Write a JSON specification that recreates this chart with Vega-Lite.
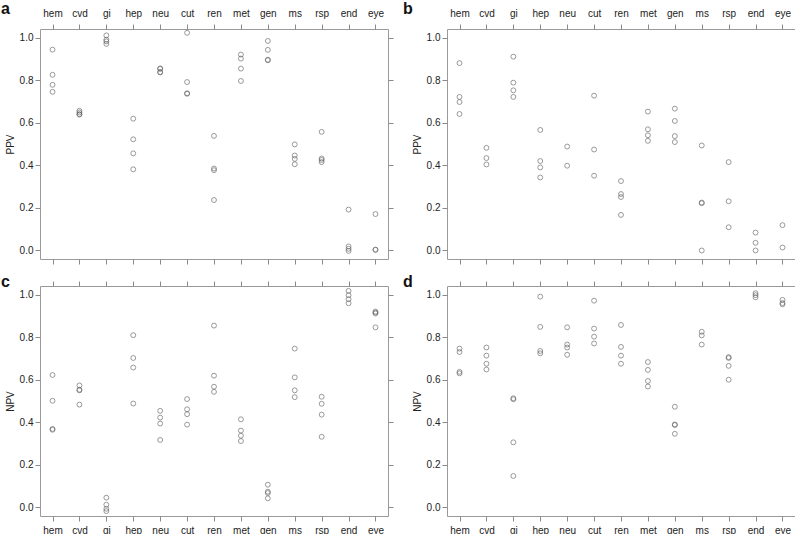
{
  "$schema": "https://vega.github.io/schema/vega-lite/v6.json",
  "padding": {"left": 0, "top": 0, "right": 0, "bottom": 0},
  "background": "white",
  "datasets": {
    "a": [
      {"cat":"hem","v":0.943},{"cat":"hem","v":0.825},{"cat":"hem","v":0.778},{"cat":"hem","v":0.745},
      {"cat":"cvd","v":0.656},{"cat":"cvd","v":0.648},{"cat":"cvd","v":0.640},{"cat":"cvd","v":0.638},
      {"cat":"gi","v":1.010},{"cat":"gi","v":0.990},{"cat":"gi","v":0.982},{"cat":"gi","v":0.970},
      {"cat":"hep","v":0.619},{"cat":"hep","v":0.522},{"cat":"hep","v":0.456},{"cat":"hep","v":0.381},
      {"cat":"neu","v":0.855},{"cat":"neu","v":0.853},{"cat":"neu","v":0.838},{"cat":"neu","v":0.836},
      {"cat":"cut","v":1.022},{"cat":"cut","v":0.791},{"cat":"cut","v":0.738},{"cat":"cut","v":0.736},
      {"cat":"ren","v":0.538},{"cat":"ren","v":0.385},{"cat":"ren","v":0.377},{"cat":"ren","v":0.237},
      {"cat":"met","v":0.920},{"cat":"met","v":0.901},{"cat":"met","v":0.854},{"cat":"met","v":0.796},
      {"cat":"gen","v":0.984},{"cat":"gen","v":0.942},{"cat":"gen","v":0.896},{"cat":"gen","v":0.893},
      {"cat":"ms","v":0.498},{"cat":"ms","v":0.446},{"cat":"ms","v":0.430},{"cat":"ms","v":0.405},
      {"cat":"rsp","v":0.557},{"cat":"rsp","v":0.432},{"cat":"rsp","v":0.425},{"cat":"rsp","v":0.415},
      {"cat":"end","v":0.192},{"cat":"end","v":0.019},{"cat":"end","v":0.008},{"cat":"end","v":-0.002},
      {"cat":"eye","v":0.171},{"cat":"eye","v":0.004},{"cat":"eye","v":0.003}
    ],
    "b": [
      {"cat":"hem","v":0.880},{"cat":"hem","v":0.721},{"cat":"hem","v":0.697},{"cat":"hem","v":0.641},
      {"cat":"cvd","v":0.482},{"cat":"cvd","v":0.434},{"cat":"cvd","v":0.404},
      {"cat":"gi","v":0.910},{"cat":"gi","v":0.788},{"cat":"gi","v":0.752},{"cat":"gi","v":0.721},
      {"cat":"hep","v":0.566},{"cat":"hep","v":0.420},{"cat":"hep","v":0.390},{"cat":"hep","v":0.343},
      {"cat":"neu","v":0.488},{"cat":"neu","v":0.398},
      {"cat":"cut","v":0.727},{"cat":"cut","v":0.474},{"cat":"cut","v":0.351},
      {"cat":"ren","v":0.326},{"cat":"ren","v":0.265},{"cat":"ren","v":0.251},{"cat":"ren","v":0.167},
      {"cat":"met","v":0.652},{"cat":"met","v":0.569},{"cat":"met","v":0.541},{"cat":"met","v":0.515},
      {"cat":"gen","v":0.666},{"cat":"gen","v":0.608},{"cat":"gen","v":0.537},{"cat":"gen","v":0.509},
      {"cat":"ms","v":0.493},{"cat":"ms","v":0.225},{"cat":"ms","v":0.222},{"cat":"ms","v":0.0},
      {"cat":"rsp","v":0.415},{"cat":"rsp","v":0.231},{"cat":"rsp","v":0.109},
      {"cat":"end","v":0.084},{"cat":"end","v":0.036},{"cat":"end","v":0.0},
      {"cat":"eye","v":0.119},{"cat":"eye","v":0.014}
    ],
    "c": [
      {"cat":"hem","v":0.622},{"cat":"hem","v":0.501},{"cat":"hem","v":0.369},{"cat":"hem","v":0.365},
      {"cat":"cvd","v":0.573},{"cat":"cvd","v":0.553},{"cat":"cvd","v":0.550},{"cat":"cvd","v":0.483},
      {"cat":"gi","v":0.046},{"cat":"gi","v":0.013},{"cat":"gi","v":-0.006},{"cat":"gi","v":-0.017},
      {"cat":"hep","v":0.809},{"cat":"hep","v":0.702},{"cat":"hep","v":0.657},{"cat":"hep","v":0.488},
      {"cat":"neu","v":0.454},{"cat":"neu","v":0.422},{"cat":"neu","v":0.394},{"cat":"neu","v":0.317},
      {"cat":"cut","v":0.509},{"cat":"cut","v":0.461},{"cat":"cut","v":0.438},{"cat":"cut","v":0.389},
      {"cat":"ren","v":0.854},{"cat":"ren","v":0.619},{"cat":"ren","v":0.567},{"cat":"ren","v":0.543},
      {"cat":"met","v":0.414},{"cat":"met","v":0.361},{"cat":"met","v":0.337},{"cat":"met","v":0.312},
      {"cat":"gen","v":0.107},{"cat":"gen","v":0.074},{"cat":"gen","v":0.068},{"cat":"gen","v":0.043},
      {"cat":"ms","v":0.746},{"cat":"ms","v":0.611},{"cat":"ms","v":0.550},{"cat":"ms","v":0.518},
      {"cat":"rsp","v":0.520},{"cat":"rsp","v":0.487},{"cat":"rsp","v":0.436},{"cat":"rsp","v":0.332},
      {"cat":"end","v":1.017},{"cat":"end","v":0.997},{"cat":"end","v":0.978},{"cat":"end","v":0.959},
      {"cat":"eye","v":0.920},{"cat":"eye","v":0.915},{"cat":"eye","v":0.911},{"cat":"eye","v":0.846}
    ],
    "d": [
      {"cat":"hem","v":0.746},{"cat":"hem","v":0.730},{"cat":"hem","v":0.637},{"cat":"hem","v":0.630},
      {"cat":"cvd","v":0.751},{"cat":"cvd","v":0.713},{"cat":"cvd","v":0.675},{"cat":"cvd","v":0.648},
      {"cat":"gi","v":0.513},{"cat":"gi","v":0.508},{"cat":"gi","v":0.306},{"cat":"gi","v":0.148},
      {"cat":"hep","v":0.990},{"cat":"hep","v":0.848},{"cat":"hep","v":0.735},{"cat":"hep","v":0.724},
      {"cat":"neu","v":0.846},{"cat":"neu","v":0.765},{"cat":"neu","v":0.751},{"cat":"neu","v":0.717},
      {"cat":"cut","v":0.971},{"cat":"cut","v":0.840},{"cat":"cut","v":0.802},{"cat":"cut","v":0.770},
      {"cat":"ren","v":0.857},{"cat":"ren","v":0.754},{"cat":"ren","v":0.713},{"cat":"ren","v":0.675},
      {"cat":"met","v":0.683},{"cat":"met","v":0.646},{"cat":"met","v":0.594},{"cat":"met","v":0.568},
      {"cat":"gen","v":0.473},{"cat":"gen","v":0.390},{"cat":"gen","v":0.387},{"cat":"gen","v":0.346},
      {"cat":"ms","v":0.825},{"cat":"ms","v":0.808},{"cat":"ms","v":0.765},
      {"cat":"rsp","v":0.706},{"cat":"rsp","v":0.702},{"cat":"rsp","v":0.665},{"cat":"rsp","v":0.600},
      {"cat":"end","v":1.006},{"cat":"end","v":0.997},{"cat":"end","v":0.987},
      {"cat":"eye","v":0.975},{"cat":"eye","v":0.960},{"cat":"eye","v":0.954}
    ]
  },
  "config": {
    "font": "Liberation Sans",
    "view": {"stroke": "#9a9a9a", "strokeWidth": 1},
    "axis": {
      "grid": false, "domain": false, "tickColor": "#8a8a8a", "tickSize": 5, "tickWidth": 1,
      "labelFont": "Liberation Sans", "labelFontSize": 10, "labelColor": "#222222",
      "titleFont": "Liberation Sans", "titleFontSize": 10, "titleFontWeight": "normal", "titleColor": "#222222"
    },
    "title": {"font": "Liberation Sans", "fontSize": 16, "fontWeight": "bold", "color": "#111111", "anchor": "start", "frame": "group"}
  },
  "columns": 2,
  "spacing": {"column": 8, "row": 8},
  "concat": [
    {
      "width": 348, "height": 230,
      "data": {"name": "a"},
      "title": {"text": "a", "dx": -39, "offset": -9},
      "layer": [
        {"mark": {"type": "point", "opacity": 0},
         "encoding": {
          "x": {"field": "cat", "type": "nominal", "sort": ["hem","cvd","gi","hep","neu","cut","ren","met","gen","ms","rsp","end","eye"], "scale": {"type": "point", "padding": 0.465}, "axis": {"orient": "top", "title": null, "labelAngle": 0, "labelPadding": 6}},
          "y": {"field": "v", "type": "quantitative", "scale": {"domain": [-0.04, 1.04], "nice": false, "zero": false}, "axis": {"orient": "left", "title": "PPV", "values": [0,0.2,0.4,0.6,0.8,1.0], "format": ".1f", "labelPadding": 2, "titlePadding": 4}}
         }},
        {"mark": {"type": "point", "filled": false, "stroke": "#5f5f5f", "strokeWidth": 0.9, "size": 24},
         "encoding": {
          "x": {"field": "cat", "type": "nominal", "sort": ["hem","cvd","gi","hep","neu","cut","ren","met","gen","ms","rsp","end","eye"], "scale": {"type": "point", "padding": 0.465}, "axis": {"orient": "bottom", "title": null, "labels": false}},
          "y": {"field": "v", "type": "quantitative", "scale": {"domain": [-0.04, 1.04], "nice": false, "zero": false}, "axis": {"orient": "right", "title": null, "labels": false, "values": [0,0.2,0.4,0.6,0.8,1.0]}}
         }}
      ],
      "resolve": {"axis": {"x": "independent", "y": "independent"}}
    },
    {
      "width": 348, "height": 230,
      "data": {"name": "b"},
      "title": {"text": "b", "dx": -44, "offset": -9},
      "layer": [
        {"mark": {"type": "point", "opacity": 0},
         "encoding": {
          "x": {"field": "cat", "type": "nominal", "sort": ["hem","cvd","gi","hep","neu","cut","ren","met","gen","ms","rsp","end","eye"], "scale": {"type": "point", "padding": 0.465}, "axis": {"orient": "top", "title": null, "labelAngle": 0, "labelPadding": 6}},
          "y": {"field": "v", "type": "quantitative", "scale": {"domain": [-0.04, 1.04], "nice": false, "zero": false}, "axis": {"orient": "left", "title": "PPV", "values": [0,0.2,0.4,0.6,0.8,1.0], "format": ".1f", "labelPadding": 2, "titlePadding": 4}}
         }},
        {"mark": {"type": "point", "filled": false, "stroke": "#5f5f5f", "strokeWidth": 0.9, "size": 24},
         "encoding": {
          "x": {"field": "cat", "type": "nominal", "sort": ["hem","cvd","gi","hep","neu","cut","ren","met","gen","ms","rsp","end","eye"], "scale": {"type": "point", "padding": 0.465}, "axis": {"orient": "bottom", "title": null, "labels": false}},
          "y": {"field": "v", "type": "quantitative", "scale": {"domain": [-0.04, 1.04], "nice": false, "zero": false}, "axis": {"orient": "right", "title": null, "labels": false, "values": [0,0.2,0.4,0.6,0.8,1.0]}}
         }}
      ],
      "resolve": {"axis": {"x": "independent", "y": "independent"}}
    },
    {
      "width": 348, "height": 230,
      "data": {"name": "c"},
      "title": {"text": "c", "dx": -39, "offset": -9},
      "layer": [
        {"mark": {"type": "point", "opacity": 0},
         "encoding": {
          "x": {"field": "cat", "type": "nominal", "sort": ["hem","cvd","gi","hep","neu","cut","ren","met","gen","ms","rsp","end","eye"], "scale": {"type": "point", "padding": 0.465}, "axis": {"orient": "bottom", "title": null, "labelAngle": 0, "labelPadding": 4}},
          "y": {"field": "v", "type": "quantitative", "scale": {"domain": [-0.04, 1.04], "nice": false, "zero": false}, "axis": {"orient": "left", "title": "NPV", "values": [0,0.2,0.4,0.6,0.8,1.0], "format": ".1f", "labelPadding": 2, "titlePadding": 4}}
         }},
        {"mark": {"type": "point", "filled": false, "stroke": "#5f5f5f", "strokeWidth": 0.9, "size": 24},
         "encoding": {
          "x": {"field": "cat", "type": "nominal", "sort": ["hem","cvd","gi","hep","neu","cut","ren","met","gen","ms","rsp","end","eye"], "scale": {"type": "point", "padding": 0.465}, "axis": {"orient": "top", "title": null, "labels": false}},
          "y": {"field": "v", "type": "quantitative", "scale": {"domain": [-0.04, 1.04], "nice": false, "zero": false}, "axis": {"orient": "right", "title": null, "labels": false, "values": [0,0.2,0.4,0.6,0.8,1.0]}}
         }}
      ],
      "resolve": {"axis": {"x": "independent", "y": "independent"}}
    },
    {
      "width": 348, "height": 230,
      "data": {"name": "d"},
      "title": {"text": "d", "dx": -44, "offset": -9},
      "layer": [
        {"mark": {"type": "point", "opacity": 0},
         "encoding": {
          "x": {"field": "cat", "type": "nominal", "sort": ["hem","cvd","gi","hep","neu","cut","ren","met","gen","ms","rsp","end","eye"], "scale": {"type": "point", "padding": 0.465}, "axis": {"orient": "bottom", "title": null, "labelAngle": 0, "labelPadding": 4}},
          "y": {"field": "v", "type": "quantitative", "scale": {"domain": [-0.04, 1.04], "nice": false, "zero": false}, "axis": {"orient": "left", "title": "NPV", "values": [0,0.2,0.4,0.6,0.8,1.0], "format": ".1f", "labelPadding": 2, "titlePadding": 4}}
         }},
        {"mark": {"type": "point", "filled": false, "stroke": "#5f5f5f", "strokeWidth": 0.9, "size": 24},
         "encoding": {
          "x": {"field": "cat", "type": "nominal", "sort": ["hem","cvd","gi","hep","neu","cut","ren","met","gen","ms","rsp","end","eye"], "scale": {"type": "point", "padding": 0.465}, "axis": {"orient": "top", "title": null, "labels": false}},
          "y": {"field": "v", "type": "quantitative", "scale": {"domain": [-0.04, 1.04], "nice": false, "zero": false}, "axis": {"orient": "right", "title": null, "labels": false, "values": [0,0.2,0.4,0.6,0.8,1.0]}}
         }}
      ],
      "resolve": {"axis": {"x": "independent", "y": "independent"}}
    }
  ]
}
